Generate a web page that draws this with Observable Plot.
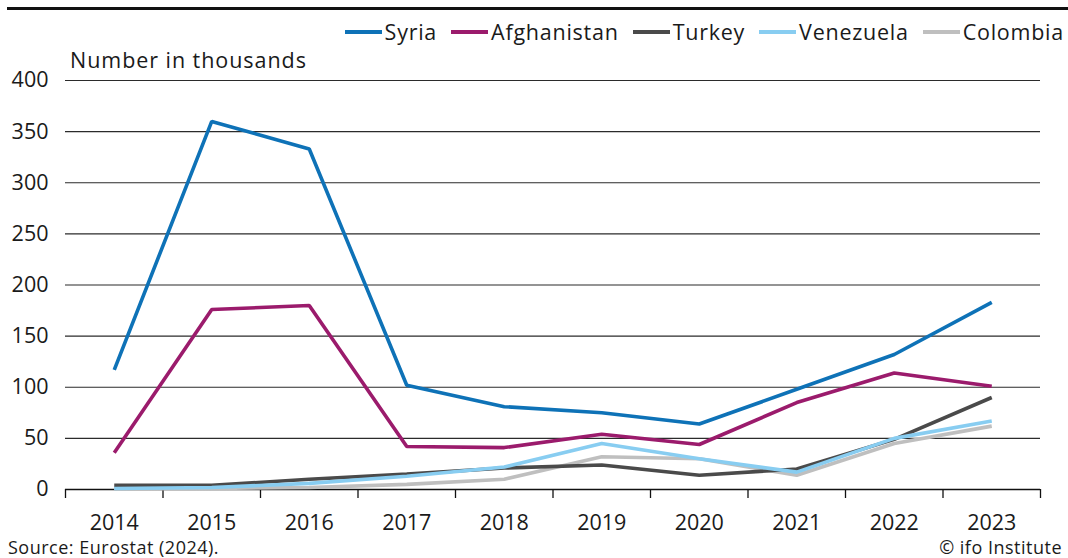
<!DOCTYPE html>
<html>
<head>
<meta charset="utf-8">
<script src="https://cdn.jsdelivr.net/npm/d3@7"></script>
<script src="https://cdn.jsdelivr.net/npm/@observablehq/plot@0.6"></script>
<style>
  html, body { margin: 0; padding: 0; background: #fff; }
  body { width: 1068px; height: 558px; overflow: hidden; position: relative; font-family: "Open Sans", sans-serif; color: #1a1a1a; }
  #rule { position: absolute; left: 7px; right: 0; top: 7px; height: 3px; background: #111; }
  #legend { position: absolute; top: 18px; right: 4px; display: flex; gap: 14px; font-size: 21.5px; line-height: 28px; letter-spacing: 0.75px; }
  .item { display: flex; align-items: center; gap: 3px; }
  .sw { width: 37px; height: 4px; display: inline-block; }
  #unit { position: absolute; left: 70px; top: 46px; font-size: 21.5px; line-height: 28px; letter-spacing: 0.95px; }
  #source { position: absolute; left: 8px; top: 536px; font-size: 18px; line-height: 22px; letter-spacing: 0.5px; }
  #copy { position: absolute; right: 6px; top: 536px; font-size: 18px; line-height: 22px; letter-spacing: 0.5px; }
  #chart { position: absolute; left: 0; top: 0; }
</style>
</head>
<body>
<div id="rule"></div>
<div id="chart"></div>
<div id="legend"></div>
<div id="unit">Number in thousands</div>
<div id="source">Source: Eurostat (2024).</div>
<div id="copy">© ifo Institute</div>
<script>
const years = [2014, 2015, 2016, 2017, 2018, 2019, 2020, 2021, 2022, 2023];
const countries = ["Syria", "Afghanistan", "Turkey", "Venezuela", "Colombia"];
const syria       = [117, 360, 333, 102, 81, 75, 64, 98, 132, 183];
const afghanistan = [36, 176, 180, 42, 41, 54, 44, 85, 114, 101];
const turkey      = [4, 4, 10, 15, 21, 24, 14, 20, 49, 90];
const venezuela   = [1, 2, 6, 13, 22, 45, 30, 17, 50, 67];
const colombia    = [0.5, 1, 2, 5, 10, 32, 30, 14, 45, 62];
const yTicks = [0, 50, 100, 150, 200, 250, 300, 350, 400];
const colors = ["#0e72b7", "#9b1b6c", "#4a4a4a", "#88cdf1", "#bfbfbf"];

const valuesByCountry = {Syria: syria, Afghanistan: afghanistan, Turkey: turkey, Venezuela: venezuela, Colombia: colombia};
const drawOrder = ["Colombia", "Turkey", "Venezuela", "Afghanistan", "Syria"];
const rows = drawOrder.flatMap(c => years.map((yr, i) => ({country: c, year: yr, value: valuesByCountry[c][i]})));
const boundaries = [...years.map(y => y - 0.5), years[years.length - 1] + 0.5];

const chart = Plot.plot({
  width: 1068,
  height: 558,
  marginTop: 80,
  marginBottom: 69,
  marginLeft: 65,
  marginRight: 28,
  style: {fontFamily: "'Open Sans', sans-serif", fontSize: "21.5px", color: "#1a1a1a", background: "transparent"},
  x: {domain: [years[0] - 0.5, years[years.length - 1] + 0.5]},
  y: {domain: [0, 400]},
  color: {domain: countries, range: colors},
  marks: [
    Plot.ruleY(yTicks.filter(d => d > 0), {stroke: "#2b2b2b", strokeWidth: 1.1}),
    Plot.axisY({ticks: yTicks, tickSize: 0, tickPadding: 17, label: null, fontSize: 21.5}),
    Plot.axisX({ticks: boundaries, tickSize: 9, tickFormat: () => "", label: null, stroke: "#111", strokeWidth: 1.3}),
    Plot.axisX({ticks: years, tickSize: 0, tickPadding: 25, tickFormat: d => String(d), label: null, fontSize: 21.5}),
    Plot.ruleY([0], {stroke: "#111", strokeWidth: 1.4}),
    Plot.line(rows, {x: "year", y: "value", z: "country", stroke: "country", strokeWidth: 3.6, strokeLinejoin: "miter", strokeLinecap: "butt"})
  ]
});
document.getElementById("chart").appendChild(chart);

const legend = document.getElementById("legend");
countries.forEach((c, i) => {
  const item = document.createElement("div");
  item.className = "item";
  const sw = document.createElement("span");
  sw.className = "sw";
  sw.style.background = colors[i];
  const t = document.createElement("span");
  t.textContent = c;
  item.appendChild(sw);
  item.appendChild(t);
  legend.appendChild(item);
});
</script>
</body>
</html>
